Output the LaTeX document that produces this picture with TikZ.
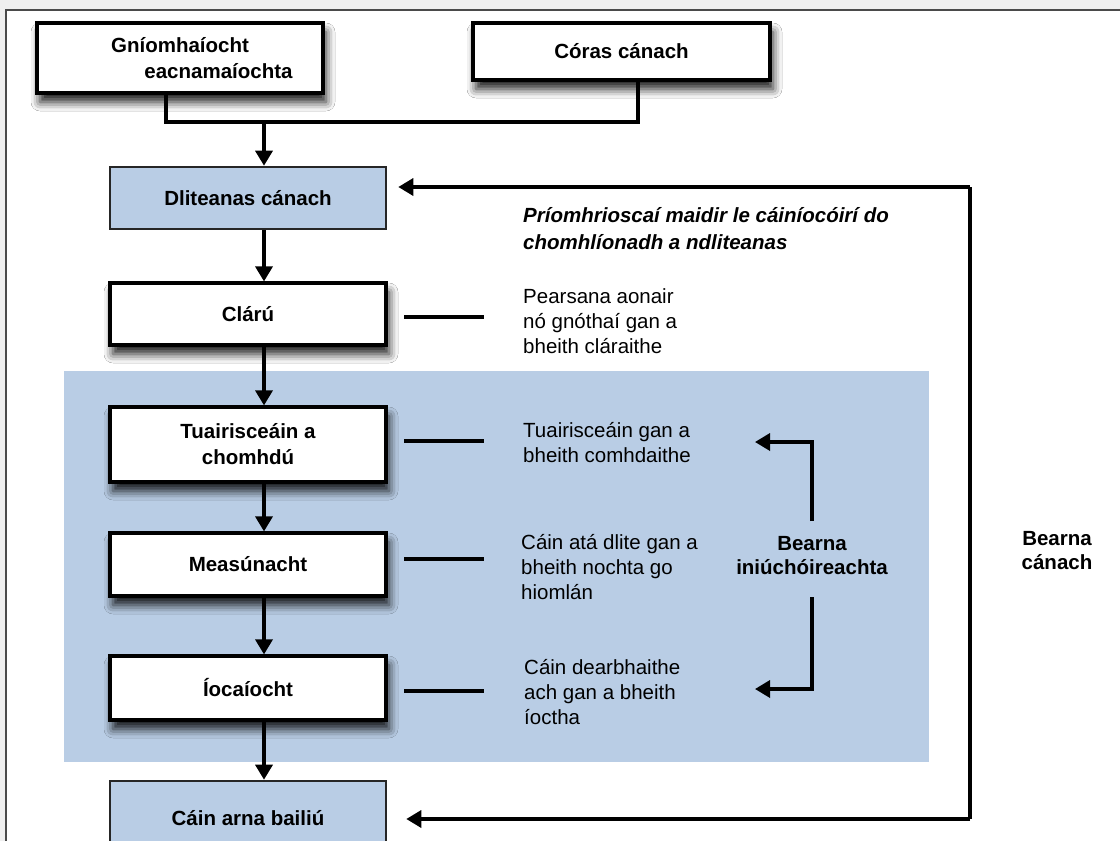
\documentclass[tikz,border=0pt]{standalone}
\usepackage{fontspec}
\setmainfont{Liberation Sans}
\usetikzlibrary{arrows.meta,shadows.blur,calc}
\definecolor{boxblue}{HTML}{B9CDE5}
\definecolor{framegray}{HTML}{4A4A4A}
\definecolor{bggray}{HTML}{EFEFEF}
\begin{document}
\begin{tikzpicture}[x=1pt,y=-1pt,
  txt/.style={font=\fontsize{20.5}{25}\selectfont, inner sep=0pt, align=left, anchor=west},
  boldtxt/.style={font=\fontsize{20.5}{24}\selectfont\bfseries, inner sep=0pt, align=center},
  basebox/.style={line width=3.2pt, inner sep=0pt, align=center,
    font=\fontsize{20.5}{26}\selectfont\bfseries},
  whitebox/.style={basebox, draw=black, fill=white,
    blur shadow={shadow xshift=3pt, shadow yshift=-9pt, shadow blur radius=9pt, shadow opacity=90}},
  bluebox/.style={basebox, draw=black!85, line width=2.6pt, fill=boxblue},
  conn/.style={line width=3.4pt, black},
  arr/.style={conn, -{Triangle[length=15pt,width=17pt]}},
]
\useasboundingbox (0,0) rectangle (1120,841);
\clip (0,0) rectangle (1120,841);
% page background and frame
\fill[bggray] (0,0) rectangle (1120,841);
\fill[white] (6,10) rectangle (1120,841);
\draw[framegray, line width=1.8pt] (6,841) -- (6,10) -- (1120,10);
% blue audit region
\fill[boxblue] (64,371) rectangle (929,762);

% boxes
\node[whitebox, minimum width=286pt, minimum height=70pt] (G) at (180,58)
  {Gníomhaíocht\\\hspace*{77pt}eacnamaíochta};
\node[whitebox, minimum width=297pt, minimum height=57pt] (CC) at (621.5,51.5) {Córas cánach};
\node[bluebox, minimum width=276pt, minimum height=62pt] (D) at (248,198) {Dliteanas cánach};
\node[whitebox, minimum width=276pt, minimum height=62pt] (Cl) at (248,314) {Clárú};
\node[whitebox, minimum width=276pt, minimum height=75pt] (T) at (248,444.5) {Tuairisceáin a\\chomhdú};
\node[whitebox, minimum width=276pt, minimum height=63pt] (M) at (248,564.5) {Measúnacht};
\node[whitebox, minimum width=276pt, minimum height=64pt] (I) at (248,688) {Íocaíocht};
\node[bluebox, minimum width=276pt, minimum height=74pt] (CB) at (248,818) {Cáin arna bailiú};

% coordinates
\coordinate (jl) at (166,122);
\coordinate (jr) at (638,122);
\coordinate (jm) at (264,122);
\coordinate (ax) at (264,0);
\coordinate (rt) at (970,187);
\coordinate (rb) at (970,819);

% top merge
\draw[conn] (G.south -| jl) -- (jl) -- (jr) -- (CC.south -| jr);
\draw[arr] (jm) -- (D.north -| jm);
% main chain
\draw[arr] (D.south -| ax) -- (Cl.north -| ax);
\draw[arr] (Cl.south -| ax) -- (T.north -| ax);
\draw[arr] (T.south -| ax) -- (M.north -| ax);
\draw[arr] (M.south -| ax) -- (I.north -| ax);
\draw[arr] (I.south -| ax) -- (CB.north -| ax);

% tax gap loop
\draw[conn] (rt) -- (rb);
\draw[arr, shorten >=11pt] (rt) -- (D.east |- rt);
\draw[arr, shorten >=19pt] (rb) -- (CB.east |- rb);
\node[boldtxt] (BC) at (1057,551) {Bearna\\cánach};

% risk texts
\node[txt, font=\fontsize{20.5}{27}\selectfont\bfseries\itshape] (R) at (523,229)
  {Príomhrioscaí maidir le cáiníocóirí do\\chomhlíonadh a ndliteanas};
\node[txt] (P1) at (523,321) {Pearsana aonair\\nó gnóthaí gan a\\bheith cláraithe};
\node[txt] (P2) at (523,443) {Tuairisceáin gan a\\bheith comhdaithe};
\node[txt] (P3) at (521,567) {Cáin atá dlite gan a\\bheith nochta go\\hiomlán};
\node[txt] (P4) at (524,692) {Cáin dearbhaithe\\ach gan a bheith\\íoctha};

\coordinate (s1a) at (404,317); \coordinate (s1b) at (484,317);
\coordinate (s2a) at (404,441); \coordinate (s2b) at (484,441);
\coordinate (s3a) at (404,559); \coordinate (s3b) at (484,559);
\coordinate (s4a) at (404,691); \coordinate (s4b) at (484,691);
\draw[conn] (s1a) -- (s1b);
\draw[conn] (s2a) -- (s2b);
\draw[conn] (s3a) -- (s3b);
\draw[conn] (s4a) -- (s4b);

% audit gap
\node[boldtxt] (BI) at (812,556) {Bearna\\iniúchóireachta};
\coordinate (b1) at (812,521); \coordinate (t1) at (755,442);
\coordinate (b2) at (812,597); \coordinate (t2) at (755,689);
\draw[arr] (b1) |- (t1);
\draw[arr] (b2) |- (t2);
\end{tikzpicture}
\end{document}
